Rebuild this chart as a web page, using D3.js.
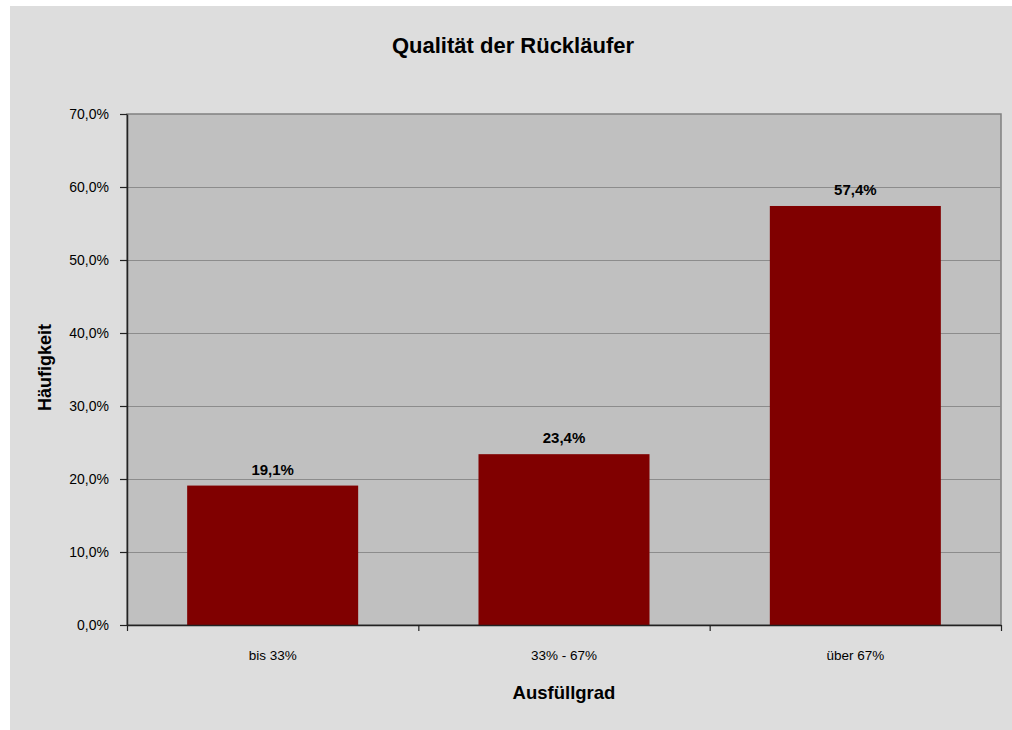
<!DOCTYPE html>
<html>
<head>
<meta charset="utf-8">
<script src="https://cdn.jsdelivr.net/npm/d3@7"></script>
<style>
  html, body { margin: 0; padding: 0; background: #fff; }
  text { font-family: "Liberation Sans", Arial, sans-serif; fill: #000; }
</style>
</head>
<body>
<div id="container"></div>
<script>
const categories = ["bis 33%", "33% - 67%", "über 67%"];
const values = [19.1, 23.4, 57.4];
const yTicks = [0, 10, 20, 30, 40, 50, 60, 70];

const width = 1012;
const height = 730;
const plot = {left: 127, top: 114, right: 1001, bottom: 625};

const fmt = v => v.toFixed(1).replace(".", ",") + "%";

const svg = d3.create("svg")
    .attr("width", width)
    .attr("height", height)
    .attr("viewBox", [0, 0, width, height]);

// chart area background
svg.append("rect")
    .attr("x", 10).attr("y", 6)
    .attr("width", width - 10).attr("height", height - 6)
    .attr("fill", "#dddddd");

const x = d3.scaleBand()
    .domain(categories)
    .range([plot.left, plot.right])
    .paddingInner(0.413)
    .paddingOuter(0.2065);

const y = d3.scaleLinear()
    .domain([0, 70])
    .range([plot.bottom, plot.top]);

// plot area
svg.append("rect")
    .attr("x", plot.left).attr("y", plot.top)
    .attr("width", plot.right - plot.left).attr("height", plot.bottom - plot.top)
    .attr("fill", "#c0c0c0")
    .attr("stroke", "#808080")
    .attr("stroke-width", 1.5);

// gridlines
svg.append("g")
    .selectAll("line")
    .data(yTicks.slice(1, -1))
    .join("line")
    .attr("x1", plot.left).attr("x2", plot.right)
    .attr("y1", d => Math.round(y(d)) + 0.5)
    .attr("y2", d => Math.round(y(d)) + 0.5)
    .attr("stroke", "#8c8c8c")
    .attr("stroke-width", 1);

// bars
svg.append("g")
    .selectAll("rect")
    .data(values)
    .join("rect")
    .attr("x", (d, i) => x(categories[i]))
    .attr("y", d => y(d))
    .attr("width", x.bandwidth())
    .attr("height", d => y(0) - y(d))
    .attr("fill", "#800000");

// value labels
svg.append("g")
    .selectAll("text")
    .data(values)
    .join("text")
    .attr("x", (d, i) => x(categories[i]) + x.bandwidth() / 2)
    .attr("y", d => y(d) - 11)
    .attr("text-anchor", "middle")
    .attr("font-size", 15)
    .attr("font-weight", "bold")
    .text(fmt);

// y axis
const yAxis = svg.append("g")
    .attr("transform", `translate(${plot.left},0)`)
    .call(d3.axisLeft(y).tickValues(yTicks).tickSize(7).tickSizeOuter(0).tickPadding(11).tickFormat(fmt));
yAxis.select(".domain").attr("stroke", "#222").attr("stroke-width", 1.5);
yAxis.selectAll(".tick line").attr("stroke", "#222").attr("stroke-width", 1.2);
yAxis.selectAll(".tick text")
    .attr("font-size", 14)
    .attr("font-family", "Liberation Sans, Arial, sans-serif")
    .attr("fill", "#000");

// x axis (ticks between categories)
const xEdges = d3.scaleLinear().domain([0, 3]).range([plot.left, plot.right]);
const xAxis = svg.append("g")
    .attr("transform", `translate(0,${plot.bottom})`)
    .call(d3.axisBottom(xEdges).tickValues([0, 1, 2, 3]).tickSize(6).tickSizeOuter(0).tickFormat(""));
xAxis.select(".domain").attr("stroke", "#222").attr("stroke-width", 1.5);
xAxis.selectAll(".tick line").attr("stroke", "#222").attr("stroke-width", 1.2);

svg.append("g")
    .selectAll("text")
    .data(categories)
    .join("text")
    .attr("x", d => x(d) + x.bandwidth() / 2)
    .attr("y", 660)
    .attr("text-anchor", "middle")
    .attr("font-size", 13.5)
    .text(d => d);

// titles
svg.append("text")
    .attr("x", 513).attr("y", 53)
    .attr("text-anchor", "middle")
    .attr("font-size", 22)
    .attr("font-weight", "bold")
    .text("Qualität der Rückläufer");

svg.append("text")
    .attr("x", (plot.left + plot.right) / 2).attr("y", 699)
    .attr("text-anchor", "middle")
    .attr("font-size", 18.5)
    .attr("font-weight", "bold")
    .text("Ausfüllgrad");

svg.append("text")
    .attr("transform", `translate(51,${(plot.top + plot.bottom) / 2 - 2}) rotate(-90)`)
    .attr("text-anchor", "middle")
    .attr("font-size", 18)
    .attr("font-weight", "bold")
    .text("Häufigkeit");

d3.select("#container").append(() => svg.node());
</script>
</body>
</html>
